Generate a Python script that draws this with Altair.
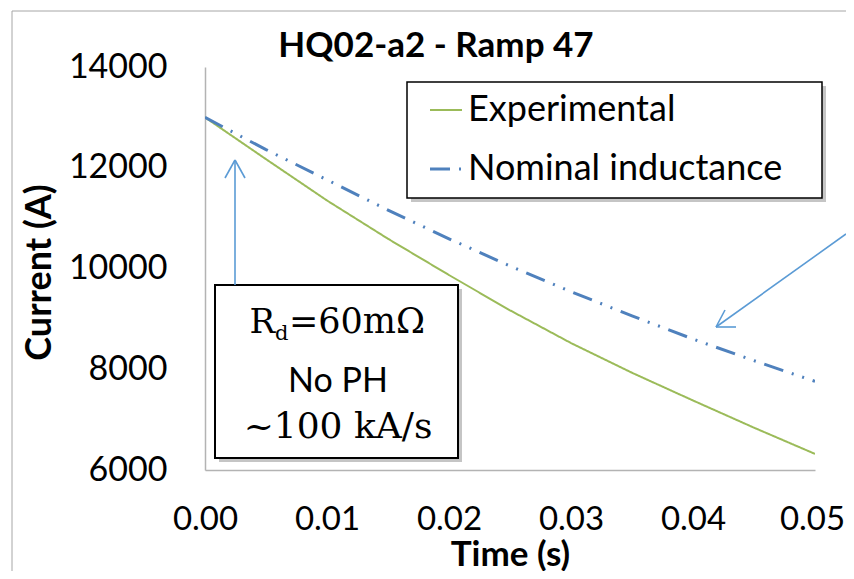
import altair as alt
import pandas as pd

# ---------------- data ----------------
time_s = [0.0, 0.005, 0.01, 0.015, 0.02, 0.025, 0.03, 0.035, 0.04, 0.045, 0.05]
experimental_A = [13000, 12170, 11350, 10590, 9870, 9170, 8520, 7930, 7380, 6840, 6320]
nominal_A = [13000, 12360, 11760, 11160, 10590, 10050, 9540, 9060, 8600, 8170, 7760]
series_names = ["Experimental", "Nominal inductance"]
x_ticks = [0.0, 0.01, 0.02, 0.03, 0.04, 0.05]
y_ticks = [6000, 8000, 10000, 12000, 14000]

title_text = "HQ02-a2 - Ramp 47"
box_lines = ["No PH", "~100 kA/s"]

GREEN = "#9BBB59"
BLUE = "#4F81BD"
ARROW = "#5B9BD5"
AXIS_GRAY = "#B3B3B3"
FONT = "Lato"
SERIF = "DejaVu Serif"

rows = []
for t, e, n in zip(time_s, experimental_A, nominal_A):
    rows.append({"t": t, "I": e, "series": series_names[0]})
    rows.append({"t": t, "I": n, "series": series_names[1]})
df = pd.DataFrame(rows)
one = pd.DataFrame({"k": [0]})

W, H = 610, 403

lines = alt.Chart(df).mark_line(clip=True).encode(
    x=alt.X("t:Q",
            scale=alt.Scale(domain=[0, 0.05], nice=False, zero=False),
            axis=alt.Axis(values=x_ticks, format=".2f", title="Time (s)",
                          grid=False, ticks=False, domainColor=AXIS_GRAY, domainWidth=1.5,
                          labelFont=FONT, labelFontSize=33, labelColor="#000",
                          labelPadding=33, labelFlush=False,
                          labelOffset={"expr": "datum.value >= 0.049 ? -3 : 0"},
                          titleFont=FONT, titleFontSize=35, titleFontWeight="bold",
                          titleColor="#000", titleX=305, titleY=84,
                          titleAlign="center", titleBaseline="middle")),
    y=alt.Y("I:Q",
            scale=alt.Scale(domain=[6000, 14000], nice=False, zero=False),
            axis=alt.Axis(values=y_ticks, format="d", title="Current (A)",
                          grid=False, ticks=False, domainColor=AXIS_GRAY, domainWidth=1.5,
                          labelFont=FONT, labelFontSize=34, labelColor="#000",
                          labelPadding=38, labelFlush=False,
                          titleFont=FONT, titleFontSize=36, titleFontWeight="bold",
                          titleColor="#000", titleX=-166, titleY=205, titleAngle=-90,
                          titleAlign="center", titleBaseline="middle")),
    color=alt.Color("series:N",
                    scale=alt.Scale(domain=series_names, range=[GREEN, BLUE]),
                    legend=alt.Legend(title=None)),
    strokeDash=alt.StrokeDash("series:N",
                              scale=alt.Scale(domain=series_names,
                                              range=[[1, 0], [20, 9, 2, 9, 2, 9]]),
                              legend=alt.Legend(title=None)),
    strokeWidth=alt.StrokeWidth("series:N",
                                scale=alt.Scale(domain=series_names, range=[2, 3]),
                                legend=None),
)

base = alt.Chart(one)

# outer chart frame (left and top edges visible in the reference)
frame_left = base.mark_rule(color="#A6A6A6", strokeWidth=1).encode(
    x=alt.value(-193), x2=alt.value(-193), y=alt.value(-56), y2=alt.value(510))
frame_top = base.mark_rule(color="#A6A6A6", strokeWidth=1).encode(
    x=alt.value(-193), x2=alt.value(700), y=alt.value(-56), y2=alt.value(-56))

# legend frame with shadow
leg_shadow = base.mark_rect(color="#7F7F7F", opacity=0.45).encode(
    x=alt.value(206), x2=alt.value(621), y=alt.value(19), y2=alt.value(135))
leg_frame = base.mark_rect(fill="white", stroke="#000", strokeWidth=1.5).encode(
    x=alt.value(202), x2=alt.value(617), y=alt.value(15), y2=alt.value(131))

# annotation box with shadow
box_shadow = base.mark_rect(color="#7F7F7F", opacity=0.45).encode(
    x=alt.value(14), x2=alt.value(257), y=alt.value(222), y2=alt.value(395))
box = base.mark_rect(fill="white", stroke="#000", strokeWidth=2).encode(
    x=alt.value(10), x2=alt.value(253), y=alt.value(218), y2=alt.value(391))

t_R = base.mark_text(text="R", font=SERIF, fontSize=34, align="right",
                     baseline="alphabetic", color="#000").encode(
    x=alt.value(70), y=alt.value(266))
t_d = base.mark_text(text="d", font=SERIF, fontSize=21, align="left",
                     baseline="alphabetic", color="#000").encode(
    x=alt.value(70), y=alt.value(273))
t_rest = base.mark_text(text="=60mΩ", font=SERIF, fontSize=35, align="left",
                        baseline="alphabetic", color="#000").encode(
    x=alt.value(84), y=alt.value(266))
t_noph = base.mark_text(text=box_lines[0], font=FONT, fontSize=34, align="center",
                        baseline="alphabetic", color="#000").encode(
    x=alt.value(133), y=alt.value(325))
t_rate = base.mark_text(text=box_lines[1], font=SERIF, fontSize=36, align="center",
                        baseline="alphabetic", color="#000").encode(
    x=alt.value(133), y=alt.value(371))

# arrows
def seg(x1, y1, x2, y2):
    return base.mark_rule(color=ARROW, strokeWidth=1.6).encode(
        x=alt.value(x1), y=alt.value(y1), x2=alt.value(x2), y2=alt.value(y2))

arrows = [
    seg(30, 218, 30, 93), seg(30, 93, 20, 111), seg(30, 93, 40, 111),
    seg(641, 167, 511, 260), seg(511, 260, 520, 243), seg(511, 260, 531, 260),
]

title = base.mark_text(text=title_text, font=FONT, fontSize=35, fontWeight="bold",
                       align="center", baseline="alphabetic", color="#000").encode(
    x=alt.value(231), y=alt.value(-10))

chart = alt.layer(
    frame_left, frame_top, leg_shadow, leg_frame, lines,
    box_shadow, box, t_R, t_d, t_rest, t_noph, t_rate, *arrows, title
).properties(
    width=W, height=H,
    autosize=alt.AutoSizeParams(type="none"),
    padding={"left": 197, "top": 59, "right": 31, "bottom": 101},
).configure_view(
    stroke=None
).configure_legend(
    orient="none", legendX=223, legendY=25, padding=0,
    labelFont=FONT, labelFontSize=36, labelColor="#000", labelLimit=400,
    symbolType="stroke", symbolSize=1024, symbolStrokeWidth=2.5,
    labelOffset=4, rowPadding=23,
)

chart.save("out.html", embed_options={"renderer": "svg", "actions": False})
